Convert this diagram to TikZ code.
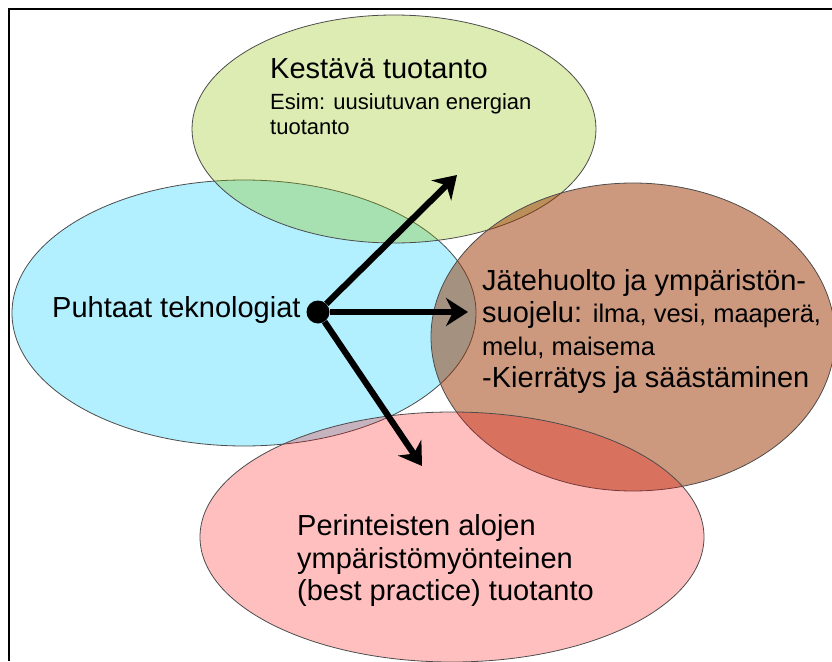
\documentclass[tikz,border=0pt]{standalone}
\usepackage{fontspec}
\setmainfont{Liberation Sans}
\usetikzlibrary{arrows.meta}

\definecolor{ovalgreen}{RGB}{142,192,0}
\definecolor{ovalblue}{RGB}{0,204,255}
\definecolor{ovalbrown}{RGB}{153,51,0}
\definecolor{ovalred}{RGB}{255,0,0}

\begin{document}
\begin{tikzpicture}[x=1pt,y=-1pt,
    oval/.style={draw=black!70,line width=0.8pt},
    big/.style={font=\fontsize{29}{33}\selectfont,inner sep=0pt,anchor=base west},
    mid/.style={font=\fontsize{25.5}{30}\selectfont,inner sep=0pt,anchor=base west},
    small/.style={font=\fontsize{22}{26}\selectfont,inner sep=0pt,anchor=base west},
    push/.style={line width=6.2pt,-{Stealth[length=22pt,width=28pt]}}]
    \useasboundingbox (0,0) rectangle (832,661);

    % Frame
    \draw[line width=2.5pt] (9,661) -- (9,9) -- (832,9);

    % Ovals
    \path[oval,fill=ovalblue,fill opacity=0.3] (244,313) ellipse (232 and 133);
    \path[oval,fill=ovalgreen,fill opacity=0.3] (394,129) ellipse (202 and 114);
    \path[oval,fill=ovalbrown,fill opacity=0.5] (633,337) ellipse (202 and 154);
    \path[oval,fill=ovalred,fill opacity=0.25] (452,537) ellipse (252 and 125);

    % Texts
    \node[big] (kestHead) at (270,78) {Kestävä tuotanto};
    \node[small] (kestEx1) at (270,109) {Esim: uusiutuvan energian};
    \node[small] (kestEx2) at (270,134) {tuotanto};

    \node[big] (puhtaat) at (52,317) {Puhtaat teknologiat};

    \node[big] (jate1) at (482,290) {Jätehuolto ja ympäristön-};
    \node[big] (jate2) at (482,322) {suojelu: {\fontsize{25.5}{30}\selectfont ilma, vesi, maaperä,}};
    \node[mid] (jate3) at (482,355) {melu, maisema};
    \node[big] (jate4) at (482,387) {-Kierrätys ja säästäminen};

    \node[big] (perin1) at (297,535) {Perinteisten alojen};
    \node[big] (perin2) at (297,568) {ympäristömyönteinen};
    \node[big] (perin3) at (297,600) {(best practice) tuotanto};

    % Arrows
    \node[circle,fill=black,inner sep=0pt,minimum size=23pt] (hub) at (318,312) {};
    \coordinate (toKest) at (457,175);
    \coordinate (toJate) at (468,312);
    \coordinate (toPerin) at (422,466);
    \draw[push] (hub) -- (toKest);
    \draw[push] (hub) -- (toJate);
    \draw[push] (hub) -- (toPerin);
\end{tikzpicture}
\end{document}
